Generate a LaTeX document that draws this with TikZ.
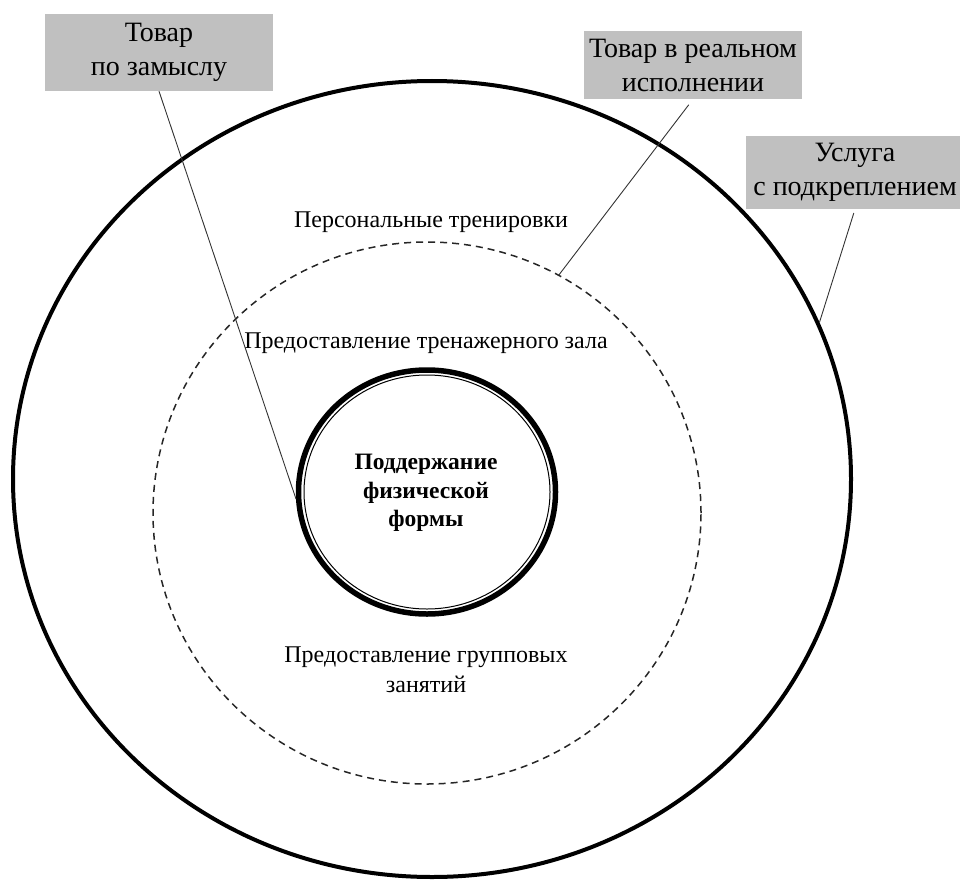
\documentclass[tikz,border=0pt]{standalone}
\usepackage{fontspec}
\setmainfont{Liberation Serif}
\usetikzlibrary{positioning,shapes.geometric}
\definecolor{lblgray}{HTML}{C0C0C0}
\definecolor{leadgray}{HTML}{333333}

\begin{document}
\begin{tikzpicture}[
    x=1pt, y=-1pt,
    ring/.style={draw=black, ellipse, inner sep=0pt},
    layer/.style={font=\fontsize{24}{30}\selectfont, align=center, inner sep=0pt},
    lbl/.style={fill=lblgray, inner sep=0pt, align=center,
      font=\fontsize{28}{34}\selectfont},
    leader/.style={draw=leadgray, line width=0.9pt}
  ]
    \useasboundingbox (0,0) rectangle (960,880);

    % rings of the product model
    \node[ring, line width=4pt, minimum width=838pt, minimum height=796pt] (augmented) at (432,479) {};
    \node[ring, line width=1.5pt, draw=black!85, dash pattern=on 7pt off 5pt,
      minimum width=548pt, minimum height=542pt] (actual) at (427,513) {};
    \node[ring, line width=5.5pt, minimum width=257pt, minimum height=244pt] (core) at (427,492) {};
    \draw[line width=1pt] (core.center) ellipse [x radius=123pt, y radius=117pt];

    \node[font=\fontsize{23.5}{28.5}\selectfont\bfseries, align=center] (coretext) at (426,493)
      {Поддержание\\физической\\формы};

    \node[layer] (personal) at (431,222) {Персональные тренировки};
    \node[layer] (gym) at (426,343) {Предоставление тренажерного зала};
    \node[layer] (group) at (426,670) {Предоставление групповых\\занятий};

    % grey labels
    \node[lbl, minimum width=228pt, minimum height=77pt] (lblidea) at (159,52.5) {Товар\\по замыслу};
    \node[lbl, minimum width=218pt, minimum height=68pt] (lblreal) at (693,65) {Товар в реальном\\исполнении};
    \node[lbl, minimum width=218pt, minimum height=73pt] (lblplus) at (855,172.5) {Услуга\\с подкреплением};

    \draw[leader] (lblidea.south) -- (core.183);
    \draw[leader, shorten <=7pt] (lblreal.south) -- (actual.61.7);
    \draw[leader, shorten <=4pt] (lblplus.south) -- (augmented.22);
  \end{tikzpicture}
\end{document}
